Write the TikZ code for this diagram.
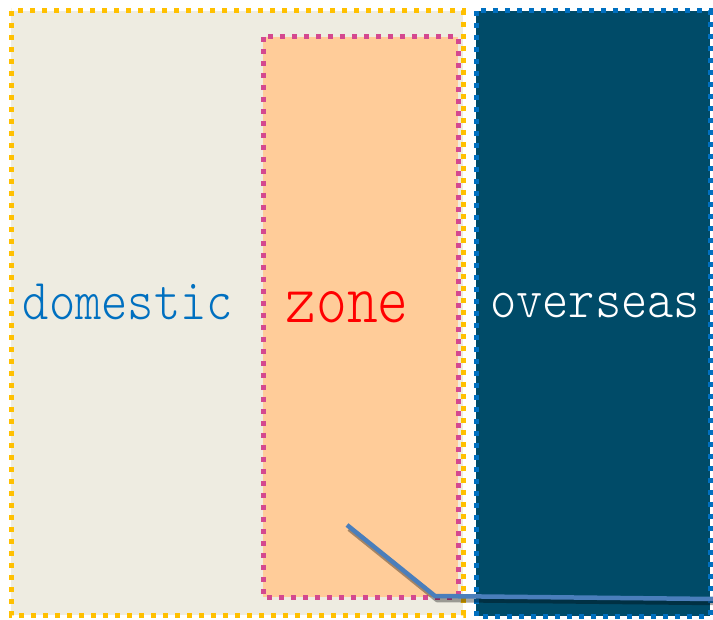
\documentclass[tikz,border=0pt]{standalone}
\usepackage{graphicx}
\usepackage{fontspec}
\setmonofont{Latin Modern Mono Light}
\definecolor{beige}{HTML}{EEECE1}
\definecolor{peach}{HTML}{FFCC99}
\definecolor{navy}{HTML}{004B68}
\definecolor{ygold}{HTML}{FFC000}
\definecolor{pinkb}{HTML}{D4488F}
\definecolor{blueb}{HTML}{0070C0}
\definecolor{lineblue}{HTML}{4A7EBB}
\tikzset{
  region/.style={line width=5pt, dash pattern=on 5pt off 7pt},
  lbl/.style={inner sep=0pt, anchor=base, font=\ttfamily},
}
\begin{document}
\begin{tikzpicture}[x=1pt,y=-1pt]
\useasboundingbox (0,0) rectangle (713,620);
\fill[white] (0,0) rectangle (713,620);
% domestic region
\draw[region, draw=ygold, fill=beige] (11,11) rectangle (463,615);
% zone region
\draw[region, draw=pinkb, fill=peach] (263,37) rectangle (458,597);
% overseas region
\draw[region, draw=blueb, fill=navy] (476,11) rectangle (710,616);
% labels
\node[lbl, text=blueb] (dom) at (128,320) {\fontsize{50}{50}\selectfont\scalebox{1}[1.16]{domestic}};
\node[lbl, text=red] (zon) at (347,323) {\fontsize{58.6}{58.6}\selectfont\scalebox{1}[1.22]{zone}};
\node[lbl, text=white] (ovs) at (595,318) {\fontsize{50}{50}\selectfont\scalebox{1}[1.12]{overseas}};
% connector
\coordinate (p1) at (347,525);
\coordinate (p2) at (435,596);
\coordinate (p3) at (713,599);
\draw[line width=4.5pt, black, opacity=0.35] ([shift={(2,4)}]p1) -- ([shift={(2,4)}]p2) -- ([shift={(2,4)}]p3);
\draw[line width=4.5pt, lineblue] (p1) -- (p2) -- (p3);
\end{tikzpicture}
\end{document}
